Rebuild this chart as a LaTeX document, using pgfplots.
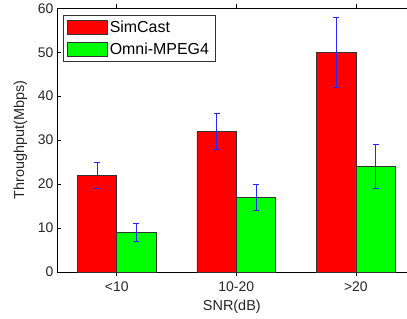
\documentclass[border=0pt]{standalone}
\usepackage{pgfplots}
\pgfplotsset{compat=1.18}
\usepackage{fontspec}
\setmainfont{Liberation Sans}
\begin{document}
\begin{tikzpicture}
\begin{axis}[
  name=ax,
  scale only axis,
  width=350bp, height=264bp,
  xmin=0.5, xmax=3.425,
  ymin=0, ymax=60,
  ytick={0,10,...,60},
  xtick={1,2,3},
  xticklabels={{<10},{10-20},{>20}},
  axis x line*=box,
  axis y line*=left,
  tick align=inside,
  major tick length=4bp,
  tick style={black, line width=0.5pt},
  axis line style={black, line width=0.6pt},
  tick label style={font=\fontsize{14}{16}\selectfont, text=black!85},
  label style={font=\fontsize{14.5}{17}\selectfont, text=black!85},
  xticklabel style={yshift=-2bp},
  /pgf/number format/assume math mode=true,
  xlabel={SNR(dB)},
  ylabel={Throughput(Mbps)},
  xlabel style={yshift=-2bp},
  ylabel style={yshift=4bp},
  ybar,
  bar width=0.33,
  legend style={at={(rel axis cs:0.017,0.973)}, anchor=north west,
    font=\fontsize{16}{18}\selectfont, draw=black!80, line width=0.6pt,
    row sep=5bp, inner xsep=4bp, inner ysep=3.5bp, cells={anchor=west}},
  legend image code/.code={\draw[#1, draw=black!80] (0bp,-7bp) rectangle (40bp,7bp);},
  error bars/y dir=both,
  error bars/y explicit,
  error bars/error bar style={blue!85, line width=0.8pt},
  error bars/error mark options={rotate=90, blue!85, mark size=3bp, line width=0.8pt},
]
\addplot[fill=red, draw=black!80, line width=0.6pt, bar shift=-0.165] coordinates {
  (1,22) +- (0,3)
  (2,32) +- (0,4)
  (3,50) +- (0,8)
};
\addplot[fill=green, draw=black!80, line width=0.6pt, bar shift=0.165] coordinates {
  (1,9) +- (0,2)
  (2,17) +- (0,3)
  (3,24) +- (0,5)
};
\legend{SimCast, Omni-MPEG4}
\end{axis}
\path (ax.south west) ++(-57bp,-46bp) coordinate (bl);
\path (ax.north east) ++(0bp,8bp) coordinate (tr);
\path (bl) rectangle (tr);
\end{tikzpicture}
\end{document}
